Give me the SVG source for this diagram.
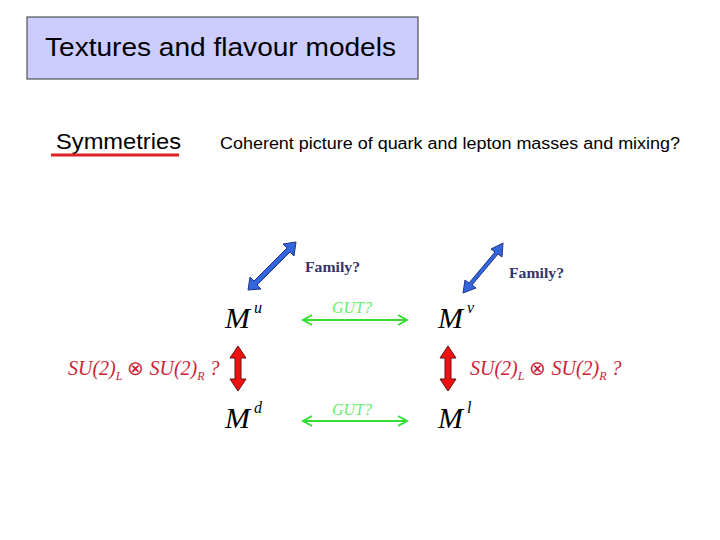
<svg xmlns="http://www.w3.org/2000/svg" width="720" height="540" viewBox="0 0 720 540">
<style>
.s{font-family:"Liberation Sans",Arial,sans-serif;fill:#000}
.m{font-family:"Liberation Serif","Times New Roman",serif;font-style:italic;fill:#000}
.fam{font-family:"Liberation Serif",serif;font-weight:bold;font-size:15px;fill:#333366}
.gut{font-family:"Liberation Serif",serif;font-style:italic;font-size:16px;fill:#66ee66}
.su{font-family:"Liberation Serif",serif;font-style:italic;font-size:20px;fill:#cc2233}
.g{stroke:#33dd33;stroke-width:2;fill:none}
</style>
<defs>
<marker id="ga" markerWidth="12" markerHeight="12" refX="10" refY="6" orient="auto-start-reverse" markerUnits="userSpaceOnUse"><path d="M1,1 L10,6 L1,11" fill="none" stroke="#33dd33" stroke-width="2"/></marker>
</defs>
<rect width="720" height="540" fill="#fff"/>
<g id="title"><rect x="27" y="17" width="391" height="62" fill="#ccccff" stroke="#333" stroke-width="1"/>
<text class="s" x="45" y="56" font-size="25" textLength="351" lengthAdjust="spacingAndGlyphs">Textures and flavour models</text></g>
<g id="sym"><text class="s" x="56" y="149" font-size="22" textLength="125" lengthAdjust="spacingAndGlyphs">Symmetries</text>
<line x1="51" y1="155" x2="179" y2="155" stroke="#dd2222" stroke-width="3"/></g>
<text class="s" x="220" y="149" font-size="16" textLength="460" lengthAdjust="spacingAndGlyphs">Coherent picture of quark and lepton masses and mixing?</text>
<g id="Mu"><text class="m" x="225" y="328" font-size="30">M</text><text class="m" x="254" y="313" font-size="16">u</text></g>
<g id="Mv"><text class="m" x="438" y="328" font-size="30">M</text><text class="m" x="467" y="313" font-size="16">ν</text></g>
<g id="Md"><text class="m" x="225" y="428" font-size="30">M</text><text class="m" x="254" y="413" font-size="16">d</text></g>
<g id="Ml"><text class="m" x="438" y="428" font-size="30">M</text><text class="m" x="467" y="413" font-size="16">l</text></g>
<g id="labels">
<text class="fam" x="305" y="272" textLength="55" lengthAdjust="spacingAndGlyphs">Family?</text>
<text class="fam" x="509" y="278" textLength="55" lengthAdjust="spacingAndGlyphs">Family?</text>
<text class="gut" x="332" y="313">GUT?</text>
<text class="gut" x="332" y="415">GUT?</text>
<text class="su" x="68" y="375">SU(2)<tspan font-size="12" dy="5">L</tspan><tspan dy="-5" font-style="normal"> ⊗ </tspan>SU(2)<tspan font-size="12" dy="5">R</tspan><tspan dy="-5"> ?</tspan></text>
<text class="su" x="470" y="375">SU(2)<tspan font-size="12" dy="5">L</tspan><tspan dy="-5" font-style="normal"> ⊗ </tspan>SU(2)<tspan font-size="12" dy="5">R</tspan><tspan dy="-5"> ?</tspan></text>
</g>
<g id="connectors">
<line class="g" x1="303" y1="320" x2="407" y2="320" marker-start="url(#ga)" marker-end="url(#ga)"/>
<line class="g" x1="303" y1="421" x2="407" y2="421" marker-start="url(#ga)" marker-end="url(#ga)"/>
<path d="M296,242 L294,256 L290,252 L257,285 L261,289 L248,290 L250,277 L254,281 L287,248 L283,244 Z" fill="#3366dd" stroke="#223388" stroke-width="1"/>
<path d="M503,243 L502,257 L498,254 L472,285 L476,288 L463,293 L465,280 L469,283 L495,252 L491,249 Z" fill="#3366dd" stroke="#223388" stroke-width="1"/>
<path d="M238,346 L246,358 L241,358 L241,379 L246,379 L238,391 L230,379 L235,379 L235,358 L230,358 Z" fill="#ee1111" stroke="#661111" stroke-width="1"/>
<path d="M448,346 L456,358 L451,358 L451,379 L456,379 L448,391 L440,379 L445,379 L445,358 L440,358 Z" fill="#ee1111" stroke="#661111" stroke-width="1"/>
</g>
</svg>
